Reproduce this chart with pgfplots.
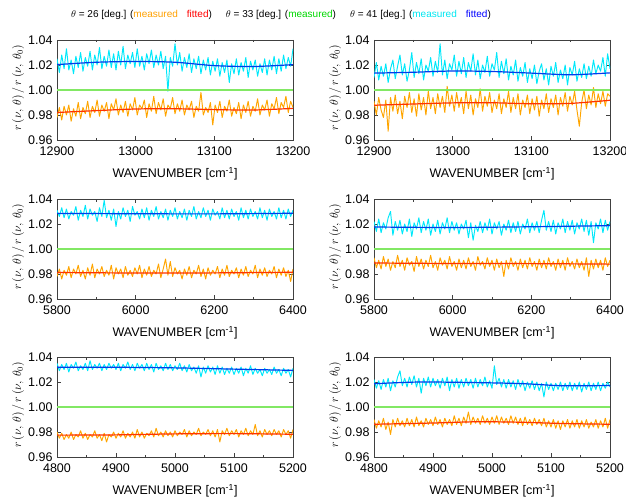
\documentclass[border=0pt]{standalone}
\usepackage{fontspec}
\setmainfont{Liberation Sans}
\usepackage{pgfplots}
\usepackage{pgfplotstable}
\pgfplotsset{compat=1.18}

\definecolor{meso}{RGB}{255,165,0}
\definecolor{mesc}{RGB}{0,232,250}
\definecolor{fito}{RGB}{255,50,0}
\definecolor{fitc}{RGB}{0,60,235}
\definecolor{refg}{RGB}{130,232,100}
\definecolor{txtg}{RGB}{0,215,0}
\definecolor{txto}{RGB}{255,160,0}
\definecolor{txtc}{RGB}{0,230,240}

% row 1: BAND 1P / 1S
\pgfplotstableread{
x oP cP oS cS
12900 0.978 1.025 0.991 1.010
12903 0.986 1.014 0.980 1.022
12906 0.976 1.028 0.994 1.008
12909 0.987 1.017 0.984 1.019
12912 0.980 1.033 0.978 1.011
12915 0.988 1.016 0.992 1.021
12918 0.975 1.024 0.967 1.006
12921 0.985 1.013 0.994 1.017
12924 0.979 1.027 0.983 1.024
12927 0.990 1.018 0.996 1.009
12930 0.977 1.030 0.981 1.019
12933 0.986 1.015 0.991 1.028
12936 0.981 1.026 0.977 1.012
12939 0.991 1.019 0.995 1.021
12942 0.978 1.031 0.986 1.007
12945 0.987 1.016 0.998 1.016
12948 0.982 1.028 0.982 1.030
12951 0.992 1.020 0.993 1.010
12954 0.979 1.034 0.979 1.022
12957 0.988 1.017 0.997 1.013
12960 0.983 1.027 0.984 1.025
12963 0.990 1.019 0.994 1.008
12966 0.977 1.032 0.980 1.020
12969 0.989 1.018 0.999 1.015
12972 0.984 1.029 0.985 1.026
12975 0.993 1.016 0.994 1.011
12978 0.980 1.031 0.981 1.023
12981 0.988 1.020 0.997 1.014
12984 0.982 1.035 0.986 1.037
12987 0.991 1.017 0.995 1.012
12990 0.979 1.028 0.982 1.024
12993 0.989 1.021 1.003 1.009
12996 0.984 1.030 0.987 1.021
12999 0.994 1.018 0.996 1.016
13002 0.980 1.033 0.983 1.028
13005 0.988 1.019 0.998 1.011
13008 0.985 1.027 0.986 1.023
13011 0.992 1.016 0.994 1.013
13014 0.978 1.029 0.981 1.026
13017 0.989 1.021 0.999 1.010
13020 0.983 1.032 0.985 1.022
13023 0.995 1.018 0.996 1.015
13026 0.981 1.028 0.980 1.029
13029 0.990 1.020 0.993 1.012
13032 0.984 1.031 0.986 1.024
13035 0.993 1.017 1.001 1.009
13038 0.979 1.027 0.983 1.020
13041 0.988 0.999 0.995 1.014
13044 0.985 1.026 0.987 1.027
13047 0.994 1.019 0.998 1.011
13050 0.981 1.037 0.982 1.021
13053 0.989 1.020 0.992 1.016
13056 0.983 1.030 0.985 1.030
13059 0.992 1.015 0.997 1.010
13062 0.980 1.026 0.981 1.023
13065 0.988 1.018 0.993 1.013
13068 0.984 1.029 0.986 1.025
13071 0.991 1.014 0.999 1.008
13074 0.978 1.025 0.982 1.019
13077 0.987 1.017 0.994 1.012
13080 0.983 1.027 0.985 1.024
13083 0.998 1.013 0.997 1.007
13086 0.980 1.024 0.980 1.018
13089 0.986 1.016 0.992 1.011
13092 0.982 1.026 0.986 1.022
13095 0.990 1.012 0.996 1.006
13098 0.972 1.023 0.981 1.017
13101 0.988 1.015 0.993 1.009
13104 0.982 1.025 0.984 1.020
13107 0.991 1.011 0.995 1.005
13110 0.978 1.022 0.979 1.015
13113 0.987 1.014 0.992 1.021
13116 0.983 1.024 0.985 1.008
13119 0.992 1.006 0.997 1.017
13122 0.979 1.021 0.982 1.004
13125 0.986 1.013 0.993 1.019
13128 0.981 1.025 0.986 1.011
13131 0.990 1.012 0.996 1.022
13134 0.977 1.022 0.980 1.006
13137 0.988 1.015 0.994 1.016
13140 0.982 1.026 0.987 1.009
13143 0.991 1.010 0.998 1.020
13146 0.979 1.023 0.983 1.004
13149 0.987 1.016 0.995 1.018
13152 0.983 1.024 0.988 1.012
13155 0.993 1.011 0.999 1.023
13158 0.980 1.021 0.984 1.007
13161 0.988 1.014 0.971 1.017
13164 0.984 1.025 0.990 1.010
13167 0.992 1.012 1.000 1.021
13170 0.979 1.024 0.985 1.009
13173 0.989 1.016 0.996 1.019
13176 0.985 1.027 0.988 1.011
13179 0.994 1.013 1.002 1.024
13182 0.981 1.025 0.986 1.013
13185 0.990 1.015 0.997 1.020
13188 0.986 1.028 0.989 1.015
13191 0.995 1.017 0.999 1.026
13194 0.982 1.026 0.987 1.011
13197 0.991 1.019 0.997 1.029
13200 0.986 1.033 0.995 1.017
}\rowone

% row 2: BAND 2P / 2S
\pgfplotstableread{
x oP cP oS cS
5800 0.978 1.031 0.993 1.022
5806 0.984 1.026 0.985 1.014
5812 0.976 1.033 0.991 1.024
5818 0.983 1.025 0.984 1.013
5824 0.979 1.032 0.994 1.021
5830 0.986 1.024 0.986 1.016
5836 0.977 1.030 0.992 1.025
5842 0.984 1.027 0.983 1.030
5848 0.980 1.034 0.990 1.011
5854 0.987 1.023 0.985 1.022
5860 0.978 1.031 0.995 1.015
5866 0.983 1.026 0.986 1.023
5872 0.976 1.035 0.991 1.012
5878 0.985 1.024 0.983 1.020
5884 0.979 1.032 0.993 1.014
5890 0.988 1.027 0.987 1.024
5896 0.977 1.030 0.990 1.010
5902 0.984 1.022 0.982 1.021
5908 0.980 1.033 0.994 1.016
5914 0.986 1.026 0.986 1.025
5920 0.978 1.039 0.992 1.013
5926 0.983 1.025 0.984 1.022
5932 0.979 1.031 0.991 1.015
5938 0.987 1.023 0.986 1.024
5944 0.976 1.032 0.995 1.011
5950 0.985 1.018 0.985 1.020
5956 0.980 1.030 0.990 1.014
5962 0.984 1.024 0.983 1.023
5968 0.977 1.033 0.993 1.012
5974 0.986 1.026 0.987 1.021
5980 0.979 1.031 0.991 1.016
5986 0.983 1.022 0.984 1.025
5992 0.978 1.034 0.994 1.013
5998 0.985 1.027 0.986 1.022
6004 0.980 1.030 0.990 1.015
6010 0.987 1.024 0.983 1.021
6016 0.977 1.032 0.992 1.012
6022 0.984 1.025 0.985 1.020
6028 0.979 1.033 0.991 1.016
6034 0.986 1.023 0.984 1.023
6040 0.978 1.031 0.993 1.009
6046 0.983 1.026 0.986 1.021
6052 0.980 1.034 0.990 1.007
6058 0.988 1.024 0.983 1.019
6064 0.977 1.030 0.994 1.014
6070 0.984 1.025 0.987 1.022
6076 0.992 1.032 0.990 1.013
6082 0.979 1.023 0.984 1.021
6088 0.990 1.031 0.993 1.015
6094 0.978 1.026 0.986 1.024
6100 0.985 1.033 0.991 1.012
6106 0.980 1.024 0.983 1.021
6112 0.983 1.030 0.992 1.016
6118 0.976 1.025 0.985 1.022
6124 0.984 1.032 0.990 1.011
6130 0.979 1.023 0.978 1.020
6136 0.986 1.031 0.991 1.015
6142 0.977 1.026 0.984 1.023
6148 0.983 1.034 0.993 1.013
6154 0.980 1.024 0.986 1.021
6160 0.987 1.030 0.990 1.014
6166 0.978 1.025 0.983 1.022
6172 0.984 1.033 0.992 1.012
6178 0.976 1.026 0.985 1.020
6184 0.985 1.031 0.991 1.016
6190 0.979 1.023 0.984 1.024
6196 0.983 1.032 0.993 1.013
6202 0.980 1.027 0.986 1.021
6208 0.986 1.030 0.990 1.015
6214 0.977 1.024 0.983 1.022
6220 0.984 1.033 0.992 1.013
6226 0.979 1.025 0.985 1.023
6232 0.987 1.031 0.991 1.031
6238 0.978 1.024 0.984 1.015
6244 0.983 1.032 0.993 1.022
6250 0.980 1.026 0.986 1.014
6256 0.985 1.030 0.990 1.023
6262 0.977 1.023 0.983 1.012
6268 0.984 1.033 0.992 1.021
6274 0.979 1.025 0.985 1.016
6280 0.986 1.031 0.991 1.024
6286 0.978 1.024 0.983 1.013
6292 0.983 1.032 0.993 1.022
6298 0.980 1.026 0.986 1.015
6304 0.987 1.030 0.990 1.023
6310 0.977 1.024 0.984 1.012
6316 0.984 1.033 0.992 1.021
6322 0.979 1.025 0.985 1.016
6328 0.985 1.031 0.990 1.024
6334 0.978 1.023 0.983 1.014
6340 0.983 1.032 0.993 1.023
6346 0.980 1.026 0.978 1.011
6352 0.986 1.030 0.991 1.022
6358 0.977 1.024 0.984 1.005
6364 0.984 1.033 0.992 1.021
6370 0.979 1.025 0.985 1.016
6376 0.985 1.031 0.991 1.024
6382 0.978 1.024 0.983 1.013
6388 0.983 1.032 0.993 1.023
6394 0.974 1.026 0.986 1.015
6400 0.984 1.031 0.991 1.022
}\rowtwo

% row 3: BAND 3P / 3S
\pgfplotstableread{
x oP cP oS cS
4800 0.980 1.035 0.990 1.022
4804 0.975 1.029 0.983 1.015
4808 0.979 1.034 0.989 1.021
4812 0.974 1.030 0.984 1.014
4816 0.978 1.035 0.991 1.022
4820 0.975 1.028 0.982 1.016
4824 0.980 1.034 0.988 1.023
4828 0.974 1.031 0.978 1.013
4832 0.978 1.036 0.990 1.021
4836 0.976 1.029 0.984 1.016
4840 0.981 1.033 0.991 1.024
4844 0.975 1.030 0.985 1.029
4848 0.979 1.035 0.989 1.017
4852 0.974 1.029 0.984 1.023
4856 0.978 1.037 0.991 1.016
4860 0.976 1.030 0.985 1.024
4864 0.981 1.034 0.990 1.018
4868 0.975 1.031 0.984 1.025
4872 0.978 1.035 0.992 1.016
4876 0.973 1.029 0.985 1.023
4880 0.979 1.034 0.989 1.011
4884 0.972 1.030 0.984 1.023
4888 0.978 1.035 0.991 1.017
4892 0.976 1.031 0.986 1.024
4896 0.980 1.034 0.990 1.016
4900 0.975 1.030 0.985 1.023
4904 0.979 1.035 0.992 1.017
4908 0.976 1.029 0.986 1.022
4912 0.981 1.034 0.990 1.015
4916 0.975 1.031 0.984 1.023
4920 0.979 1.036 0.991 1.017
4924 0.976 1.030 0.986 1.024
4928 0.980 1.034 0.990 1.013
4932 0.975 1.029 0.985 1.022
4936 0.982 1.035 0.993 1.016
4940 0.976 1.031 0.986 1.023
4944 0.980 1.034 0.991 1.015
4948 0.975 1.029 0.985 1.022
4952 0.979 1.035 0.992 1.016
4956 0.977 1.030 0.987 1.023
4960 0.981 1.034 0.996 1.017
4964 0.976 1.028 0.986 1.022
4968 0.983 1.035 0.992 1.015
4972 0.977 1.030 0.987 1.023
4976 0.980 1.033 0.991 1.016
4980 0.976 1.029 0.986 1.022
4984 0.981 1.035 0.993 1.017
4988 0.977 1.030 0.987 1.024
4992 0.980 1.034 0.991 1.016
4996 0.976 1.029 0.986 1.021
5000 0.981 1.033 0.992 1.015
5004 0.977 1.030 0.987 1.033
5008 0.980 1.035 0.993 1.018
5012 0.978 1.029 0.986 1.023
5016 0.982 1.033 0.992 1.016
5020 0.976 1.028 0.987 1.022
5024 0.981 1.034 0.991 1.015
5028 0.977 1.029 0.986 1.022
5032 0.980 1.032 0.993 1.016
5036 0.978 1.027 0.987 1.021
5040 0.983 1.033 0.992 1.014
5044 0.977 1.024 0.986 1.022
5048 0.980 1.032 0.991 1.016
5052 0.978 1.027 0.985 1.021
5056 0.982 1.033 0.992 1.013
5060 0.977 1.028 0.986 1.020
5064 0.981 1.032 0.990 1.015
5068 0.976 1.026 0.985 1.021
5072 0.982 1.033 0.991 1.014
5076 0.972 1.027 0.986 1.020
5080 0.981 1.032 0.990 1.013
5084 0.978 1.026 0.985 1.019
5088 0.983 1.031 0.991 1.008
5092 0.977 1.027 0.984 1.020
5096 0.981 1.032 0.989 1.014
5100 0.978 1.026 0.984 1.019
5104 0.982 1.031 0.990 1.013
5108 0.976 1.027 0.983 1.019
5112 0.981 1.032 0.989 1.014
5116 0.978 1.025 0.982 1.020
5120 0.983 1.031 0.989 1.013
5124 0.977 1.027 0.984 1.019
5128 0.981 1.033 0.990 1.014
5132 0.978 1.026 0.983 1.020
5136 0.986 1.031 0.989 1.013
5140 0.977 1.027 0.984 1.019
5144 0.981 1.030 0.990 1.014
5148 0.976 1.025 0.983 1.020
5152 0.982 1.031 0.989 1.012
5156 0.978 1.027 0.984 1.019
5160 0.981 1.030 0.990 1.014
5164 0.977 1.026 0.983 1.020
5168 0.982 1.032 0.988 1.013
5172 0.978 1.027 0.984 1.019
5176 0.981 1.030 0.990 1.014
5180 0.976 1.025 0.983 1.020
5184 0.982 1.031 0.989 1.013
5188 0.978 1.027 0.984 1.019
5192 0.981 1.030 0.991 1.015
5196 0.975 1.024 0.983 1.020
5200 0.982 1.031 0.990 1.016
}\rowthree

\pgfplotsset{
  band/.style={
    scale only axis, width=236pt, height=100pt, anchor=south west,
    ymin=0.96, ymax=1.04, ytick={0.96,0.98,1.00,1.02,1.04},
    /pgf/number format/fixed,
    /pgf/number format/1000 sep={},
    /pgf/number format/assume math mode=true,
    yticklabel style={/pgf/number format/fixed zerofill, /pgf/number format/precision=2, xshift=-1pt},
    xticklabel style={yshift=-3pt},
    scaled x ticks=false, scaled y ticks=false,
    tick align=inside, major tick length=4pt, minor tick length=2.5pt,
    xtick pos=both, ytick pos=both,
    axis line style={black!75, line width=0.5pt},
    every tick/.style={black!75, line width=0.5pt},
    tick label style={font=\fontsize{12.5}{14}\selectfont},
    xlabel={WAVENUMBER [cm\textsuperscript{-1}]},
    xlabel style={font=\fontsize{12.5}{14}\selectfont, at={(axis description cs:0.5,-0.34)}, anchor=center},
    ylabel={$r\,(\nu,\,\theta)\,/\,r\,(\nu,\,\theta_0)$},
    ylabel style={font=\fontsize{12}{14}\selectfont, at={(axis description cs:-0.165,0.52)}, anchor=center},
    clip=true,
  },
  meas/.style={line width=0.95pt, line join=round},
  fit/.style={line width=1.2pt, smooth},
  zero/.style={refg, line width=1.2pt},
}

\newcommand{\bandlabel}[1]{\node[anchor=south west, inner sep=0pt, font=\fontsize{12}{14}\selectfont] at (rel axis cs:0,1) [xshift=2pt, yshift=3pt] {#1};}

\begin{document}
\begin{tikzpicture}
\useasboundingbox (0pt,0pt) rectangle (626pt,499pt);

\node[font=\fontsize{10}{12}\selectfont, anchor=center] at (281pt,484pt)
  {$\theta$ = 26 [deg.] ({\color{txto}measured}\hspace{9pt}{\color{red}fitted})\hspace{14pt}%
   $\theta$ = 33 [deg.] ({\color{txtg}measured})\hspace{14pt}%
   $\theta$ = 41 [deg.] ({\color{txtc}measured}\hspace{9pt}{\color{blue}fitted})};

% BAND 1P
\begin{axis}[band, at={(57pt,359pt)}, xmin=12900, xmax=13200,
  xtick={12900,13000,13100,13200}, minor xtick={12950,13050,13150}]
\addplot[meas, meso] table[x=x, y=oP]{\rowone};
\addplot[meas, mesc] table[x=x, y=cP]{\rowone};
\addplot[zero] coordinates {(12900,1.0)(13200,1.0)};
\addplot[fit, fito] coordinates {(12900,0.9820)(12950,0.9835)(13000,0.9848)(13050,0.9850)(13100,0.9843)(13150,0.9840)(13200,0.9853)};
\addplot[fit, fitc] coordinates {(12900,1.0203)(12950,1.0222)(13000,1.0228)(13050,1.0222)(13100,1.0195)(13150,1.0188)(13200,1.0203)};
\bandlabel{BAND 1P}
\end{axis}

% BAND 1S
\begin{axis}[band, at={(374pt,359pt)}, xmin=12900, xmax=13200,
  xtick={12900,13000,13100,13200}, minor xtick={12950,13050,13150}]
\addplot[meas, meso] table[x=x, y=oS]{\rowone};
\addplot[meas, mesc] table[x=x, y=cS]{\rowone};
\addplot[zero] coordinates {(12900,1.0)(13200,1.0)};
\addplot[fit, fito] coordinates {(12900,0.9878)(12950,0.9888)(13000,0.9897)(13050,0.9898)(13100,0.9890)(13150,0.9893)(13200,0.9918)};
\addplot[fit, fitc] coordinates {(12900,1.0135)(12950,1.0142)(13000,1.0152)(13050,1.0148)(13100,1.0135)(13150,1.0122)(13200,1.0137)};
\bandlabel{BAND 1S}
\end{axis}

% BAND 2P
\begin{axis}[band, at={(57pt,200pt)}, xmin=5800, xmax=6400,
  xtick={5800,6000,6200,6400}, minor xtick={5900,6100,6300}]
\addplot[meas, meso] table[x=x, y=oP]{\rowtwo};
\addplot[meas, mesc] table[x=x, y=cP]{\rowtwo};
\addplot[zero] coordinates {(5800,1.0)(6400,1.0)};
\addplot[fit, fito] coordinates {(5800,0.9812)(6000,0.9808)(6200,0.9809)(6400,0.9814)};
\addplot[fit, fitc] coordinates {(5800,1.0285)(6000,1.0282)(6200,1.0281)(6400,1.0286)};
\bandlabel{BAND 2P}
\end{axis}

% BAND 2S
\begin{axis}[band, at={(374pt,200pt)}, xmin=5800, xmax=6400,
  xtick={5800,6000,6200,6400}, minor xtick={5900,6100,6300}]
\addplot[meas, meso] table[x=x, y=oS]{\rowtwo};
\addplot[meas, mesc] table[x=x, y=cS]{\rowtwo};
\addplot[zero] coordinates {(5800,1.0)(6400,1.0)};
\addplot[fit, fito] coordinates {(5800,0.9888)(6000,0.9884)(6200,0.9883)(6400,0.9879)};
\addplot[fit, fitc] coordinates {(5800,1.0176)(6000,1.0172)(6200,1.0178)(6400,1.0187)};
\bandlabel{BAND 2S}
\end{axis}

% BAND 3P
\begin{axis}[band, at={(57pt,42pt)}, xmin=4800, xmax=5200,
  xtick={4800,4900,5000,5100,5200}, minor xtick={4850,4950,5050,5150}]
\addplot[meas, meso] table[x=x, y=oP]{\rowthree};
\addplot[meas, mesc] table[x=x, y=cP]{\rowthree};
\addplot[zero] coordinates {(4800,1.0)(5200,1.0)};
\addplot[fit, fito] coordinates {(4800,0.9775)(4900,0.9777)(5000,0.9785)(5100,0.9787)(5200,0.9782)};
\addplot[fit, fitc] coordinates {(4800,1.0318)(4900,1.0318)(5000,1.0313)(5100,1.0303)(5200,1.0293)};
\bandlabel{BAND 3P}
\end{axis}

% BAND 3S
\begin{axis}[band, at={(374pt,42pt)}, xmin=4800, xmax=5200,
  xtick={4800,4900,5000,5100,5200}, minor xtick={4850,4950,5050,5150}]
\addplot[meas, meso] table[x=x, y=oS]{\rowthree};
\addplot[meas, mesc] table[x=x, y=cS]{\rowthree};
\addplot[zero] coordinates {(4800,1.0)(5200,1.0)};
\addplot[fit, fito] coordinates {(4800,0.9862)(4900,0.9872)(4975,0.9882)(5050,0.9878)(5120,0.9868)(5200,0.9862)};
\addplot[fit, fitc] coordinates {(4800,1.0186)(4880,1.0200)(5000,1.0193)(5060,1.0185)(5120,1.0170)(5200,1.0172)};
\bandlabel{BAND 3S}
\end{axis}
\end{tikzpicture}
\end{document}
